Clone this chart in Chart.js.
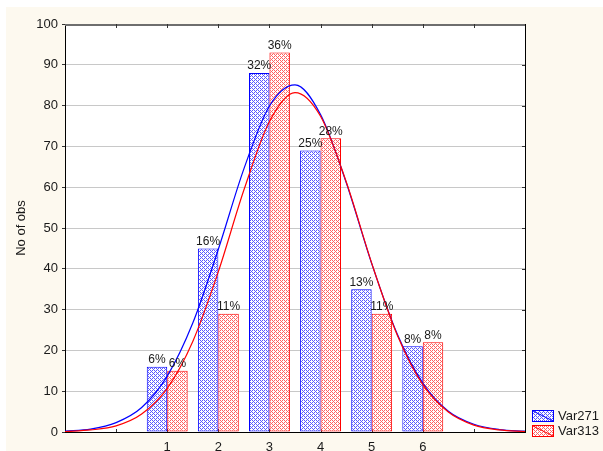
<!DOCTYPE html>
<html>
<head>
<meta charset="utf-8">
<script src="https://cdn.jsdelivr.net/npm/chart.js@4.4.1/dist/chart.umd.min.js"></script>
<style>
    html, body { margin: 0; padding: 0; background: #fff; }
    #wrap { width: 603px; height: 451px; }
</style>
</head>
<body>
<div id="wrap"><canvas id="hist"></canvas></div>
<script>
Chart.defaults.font.family = "'Liberation Sans', Arial, sans-serif";
Chart.defaults.font.size = 13;
Chart.defaults.color = '#1a1a1a';

// ========================================
// Data
// ========================================
const bins = [1, 2, 3, 4, 5, 6];
const var271 = [16, 45, 88, 69, 35, 21];
const var313 = [15, 29, 93, 72, 29, 22];

// fitted normal curves (every half unit)
const curveX = [-1, -0.5, 0, 0.5, 1, 1.5, 2, 2.5, 3, 3.5, 4, 4.5, 5, 5.5, 6, 6.5, 7, 7.5, 8];
const fit271 = [0.2, 0.7, 2.3, 6.0, 13.7, 26.7, 44.8, 64.5, 79.9, 85.1, 77.8, 61.2, 41.3, 24.0, 12.0, 5.1, 1.9, 0.6, 0.2];
const fit313 = [0.1, 0.5, 1.5, 4.4, 10.7, 22.2, 39.3, 59.3, 76.1, 83.2, 77.4, 61.4, 41.4, 23.8, 11.6, 4.9, 1.7, 0.5, 0.1];

const seriesNames = ['Var271', 'Var313'];

const colors = {
    blue: '#0000ff',
    red: '#ff0000',
    blueDot: '#5a5aff',
    redDot: '#ff6262',
    panel: '#fdf9ef',
    grid: '#c8c8c8',
    frameTop: '#6e6e6e',
    tick: '#333333'
};

// dotted fill like the Statistica bars
function dotPattern(dot) {
    const c = document.createElement('canvas');
    c.width = 4; c.height = 4;
    const g = c.getContext('2d');
    g.fillStyle = '#ffffff';
    g.fillRect(0, 0, 4, 4);
    g.fillStyle = dot;
    [[0, 0], [2, 0], [1, 1], [0, 2], [2, 2], [3, 3]].forEach(p => g.fillRect(p[0], p[1], 1, 1));
    return document.createElement('canvas').getContext('2d').createPattern(c, 'repeat');
}

const bluePattern = dotPattern(colors.blueDot);
const redPattern = dotPattern(colors.redDot);

const toPoints = (xs, ys) => xs.map((x, i) => ({ x: x, y: ys[i] }));

// ========================================
// Frame, inner ticks, % labels, legend
// ========================================
const frame = {
    id: 'frame',
    beforeDraw(chart) {
        const { ctx, chartArea: a, width, height } = chart;
        ctx.save();
        ctx.fillStyle = '#ffffff';
        ctx.fillRect(0, 0, width, height);
        ctx.fillStyle = colors.panel;
        ctx.fillRect(6, 7, width - 6, height - 7);
        ctx.fillStyle = '#ffffff';
        ctx.fillRect(a.left, a.top, a.right - a.left, a.bottom - a.top);
        ctx.restore();
    },
    beforeDatasetsDraw(chart) {
        const { ctx, chartArea: a, scales } = chart;
        ctx.save();
        ctx.fillStyle = colors.tick;
        for (let v = 0; v <= 7; v++) {
            const px = Math.round(scales.x.getPixelForValue(v));
            ctx.fillRect(px, a.bottom - 3, 1, 3);
        }
        ctx.restore();
    },
    afterDatasetsDraw(chart) {
        const { ctx } = chart;
        ctx.save();
        ctx.font = "12px 'Liberation Sans', Arial, sans-serif";
        ctx.fillStyle = '#1a1a1a';
        ctx.textAlign = 'center';
        ctx.textBaseline = 'bottom';
        [0, 1].forEach(di => {
            const values = chart.data.datasets[di].data.map(p => p.y);
            const total = values.reduce((s, v) => s + v, 0);
            chart.getDatasetMeta(di).data.forEach((bar, i) => {
                const pct = Math.round(values[i] / total * 100) + '%';
                ctx.fillText(pct, bar.x, bar.y - 1);
            });
        });
        ctx.restore();
    },
    afterDraw(chart) {
        const { ctx, chartArea: a, scales } = chart;
        ctx.save();
        // top and right frame
        ctx.fillStyle = colors.frameTop;
        ctx.fillRect(a.left, a.top, a.right - a.left + 1, 2);
        ctx.fillStyle = '#000000';
        ctx.fillRect(Math.round(a.right), a.top, 1, a.bottom - a.top + 1);
        // inner ticks
        ctx.fillStyle = colors.tick;
        for (let v = 0; v <= 7; v++) {
            const px = Math.round(scales.x.getPixelForValue(v));
            ctx.fillRect(px, a.top, 1, 4);
        }
        for (let v = 10; v < 100; v += 10) {
            const py = Math.round(scales.y.getPixelForValue(v));
            ctx.fillRect(a.right - 3, py, 3, 1);
        }
        // legend
        const fills = [bluePattern, redPattern];
        const edges = [colors.blue, colors.red];
        ctx.font = "13px 'Liberation Sans', Arial, sans-serif";
        ctx.textAlign = 'left';
        ctx.textBaseline = 'middle';
        seriesNames.forEach((name, i) => {
            const bx = 532, by = 410 + i * 15, bw = 21, bh = 11;
            ctx.fillStyle = fills[i];
            ctx.fillRect(bx, by, bw, bh);
            ctx.strokeStyle = edges[i];
            ctx.lineWidth = 1;
            ctx.strokeRect(bx + 0.5, by + 0.5, bw, bh);
            ctx.beginPath();
            ctx.moveTo(bx + 1, by + 1);
            ctx.lineTo(bx + bw, by + bh);
            ctx.stroke();
            ctx.fillStyle = '#1a1a1a';
            ctx.fillText(name, 558, by + bh / 2 + 1);
        });
        ctx.restore();
    }
};

// ========================================
// Chart
// ========================================
new Chart(document.getElementById('hist'), {
    type: 'bar',
    data: {
        datasets: [
            {
                label: seriesNames[0],
                data: toPoints(bins, var271),
                backgroundColor: bluePattern,
                borderColor: colors.blue,
                borderWidth: 1,
                borderSkipped: false,
                categoryPercentage: 0.8,
                barPercentage: 1.0,
                order: 2
            },
            {
                label: seriesNames[1],
                data: toPoints(bins, var313),
                backgroundColor: redPattern,
                borderColor: colors.red,
                borderWidth: 1,
                borderSkipped: false,
                categoryPercentage: 0.8,
                barPercentage: 1.0,
                order: 2
            },
            {
                type: 'line',
                label: 'fit ' + seriesNames[0],
                data: toPoints(curveX, fit271),
                borderColor: colors.blue,
                borderWidth: 1.2,
                pointRadius: 0,
                fill: false,
                cubicInterpolationMode: 'monotone',
                order: 1
            },
            {
                type: 'line',
                label: 'fit ' + seriesNames[1],
                data: toPoints(curveX, fit313),
                borderColor: colors.red,
                borderWidth: 1.2,
                pointRadius: 0,
                fill: false,
                cubicInterpolationMode: 'monotone',
                order: 0
            }
        ]
    },
    options: {
        responsive: true,
        maintainAspectRatio: false,
        animation: false,
        layout: { padding: { left: 0, top: 24, right: 78, bottom: 0 } },
        scales: {
            x: {
                type: 'linear',
                min: -1,
                max: 8,
                offset: false,
                ticks: {
                    stepSize: 1,
                    autoSkip: false,
                    padding: 8,
                    callback: (v) => bins.includes(v) ? String(v) : ''
                },
                grid: { display: false, drawTicks: false },
                border: { color: '#000000' },
                afterFit: (s) => { s.height = 19; }
            },
            y: {
                min: 0,
                max: 100,
                ticks: { stepSize: 10, padding: 4 },
                grid: { color: colors.grid, tickColor: colors.tick, tickLength: 3 },
                border: { color: '#000000' },
                title: {
                    display: true,
                    text: 'No of obs',
                    padding: { top: 14, bottom: 0 },
                    font: { size: 13 }
                },
                afterFit: (s) => { s.width = 65; }
            }
        },
        plugins: {
            legend: { display: false },
            tooltip: { enabled: false }
        }
    },
    plugins: [frame]
});
</script>
</body>
</html>
